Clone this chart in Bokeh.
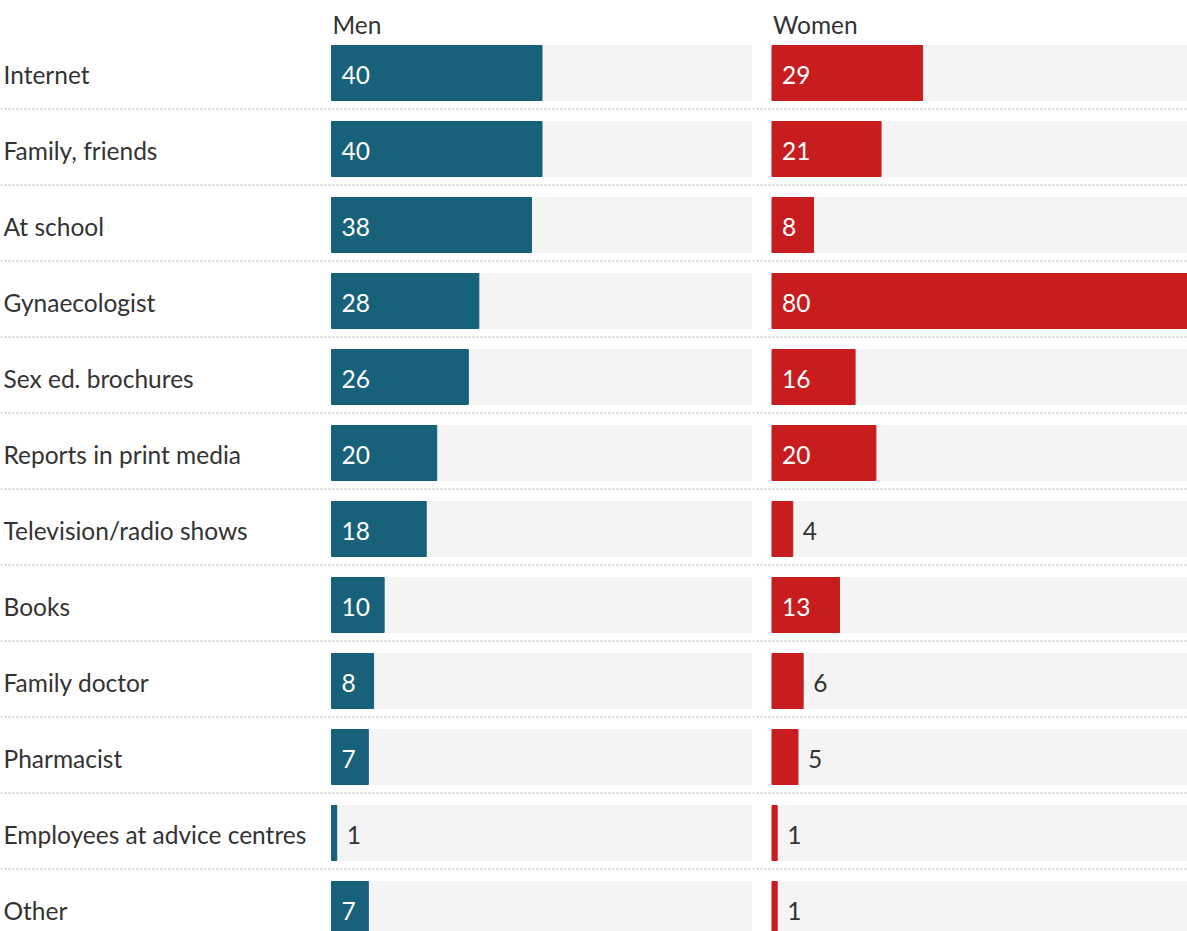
from bokeh.plotting import figure
from bokeh.models import Range1d, Span, ColumnDataSource
from bokeh.layouts import row
from bokeh.embed import file_html
from bokeh.resources import INLINE
from bokeh.core.properties import value

categories = ["Internet", "Family, friends", "At school", "Gynaecologist",
              "Sex ed. brochures", "Reports in print media", "Television/radio shows",
              "Books", "Family doctor", "Pharmacist", "Employees at advice centres", "Other"]
men = [40, 40, 38, 28, 26, 20, 18, 10, 8, 7, 1, 7]
women = [29, 21, 8, 80, 16, 20, 4, 13, 6, 5, 1, 1]
panel_titles = ["Men", "Women"]
x_max = 80

FONT = value("Lato")
TEXT_COLOR = "#333333"
BG = "#f4f4f4"
H = 931
ROW_PX = 76.0
TOP = -72.5 / ROW_PX
BOTTOM = TOP + H / ROW_PX
BAR_H = 55 / ROW_PX
FS = "24.5px"
idx = list(range(len(categories)))


def make_panel(vals, color, title, width, zero_px, with_labels):
    s = (width - zero_px) / x_max
    start = -zero_px / s
    p = figure(width=width, height=H, x_range=Range1d(start, x_max),
               y_range=Range1d(BOTTOM, TOP), output_backend="svg",
               toolbar_location=None, x_axis_type=None, y_axis_type=None,
               min_border=0, min_border_left=0, min_border_right=0,
               min_border_top=0, min_border_bottom=0)
    p.grid.visible = False
    p.outline_line_color = None
    p.background_fill_color = "white"
    p.border_fill_color = "white"

    for i in idx[:-1]:
        p.add_layout(Span(location=i + 0.474, dimension="width", line_color="#d4d4d4",
                          line_width=2, line_dash="2 2"))

    p.hbar(y=idx, left=0, right=[x_max] * len(idx), height=BAR_H, color=BG)
    p.hbar(y=idx, left=0, right=vals, height=BAR_H, color=color)

    inside = [i for i in idx if vals[i] >= 7]
    outside = [i for i in idx if vals[i] < 7]
    src_in = ColumnDataSource(dict(y=inside, x=[0] * len(inside),
                                   t=[str(vals[i]) for i in inside]))
    src_out = ColumnDataSource(dict(y=outside, x=[vals[i] for i in outside],
                                    t=[str(vals[i]) for i in outside]))
    p.text(x="x", y="y", text="t", source=src_in, x_offset=10, y_offset=1.5,
           text_color="white", text_font=FONT, text_font_size=FS,
           text_baseline="middle", text_align="left")
    p.text(x="x", y="y", text="t", source=src_out, x_offset=10, y_offset=1.5,
           text_color=TEXT_COLOR, text_font=FONT, text_font_size=FS,
           text_baseline="middle", text_align="left")

    p.text(x=[0], y=[-0.618], text=[title], x_offset=1, y_offset=-2,
           text_color=TEXT_COLOR, text_font=FONT, text_font_size=FS,
           text_baseline="middle", text_align="left")

    if with_labels:
        p.text(x=[start] * len(idx), y=idx, text=categories, x_offset=3, y_offset=1.5,
               text_color=TEXT_COLOR, text_font=FONT, text_font_size=FS,
               text_baseline="middle", text_align="left")
    return p


p_men = make_panel(men, "#17617a", panel_titles[0], 752, 331, True)
p_women = make_panel(women, "#c81d1f", panel_titles[1], 435, 19.5, False)

layout = row(p_men, p_women, spacing=0)
open("out.html", "w").write(file_html(layout, INLINE))
